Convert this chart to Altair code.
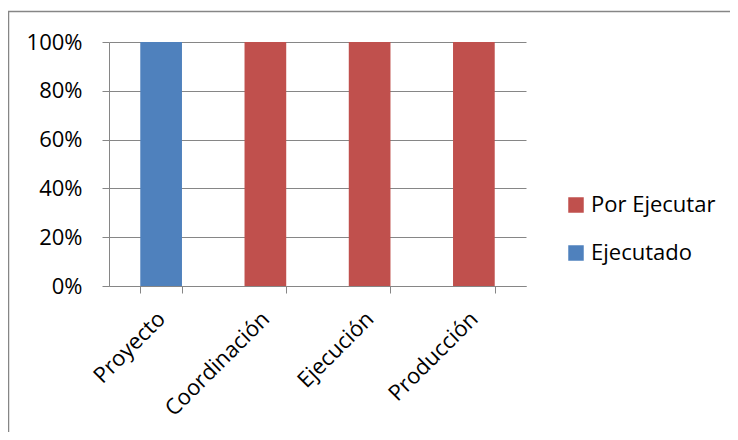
import altair as alt
import pandas as pd

categories = ["Proyecto", "Coordinación", "Ejecución", "Producción"]
ejecutado = [1.0, 0.0, 0.0, 0.0]
por_ejecutar = [0.0, 1.0, 1.0, 1.0]
series_names = ["Por Ejecutar", "Ejecutado"]
series_colors = ["#C0504D", "#4F81BD"]
y_ticks = [0, 0.2, 0.4, 0.6, 0.8, 1.0]

rows = []
for c, e, p in zip(categories, ejecutado, por_ejecutar):
    rows.append({"cat": c, "serie": "Ejecutado", "val": e, "ord": 0})
    rows.append({"cat": c, "serie": "Por Ejecutar", "val": p, "ord": 1})
df = pd.DataFrame(rows)

FONT = "Open Sans"
GRID = "#868686"

bars = alt.Chart(df).mark_bar().encode(
    x=alt.X("cat:N", sort=categories, title=None,
            scale=alt.Scale(paddingInner=0.6, paddingOuter=0.3),
            axis=alt.Axis(labelAngle=-45, labelAlign="right", labelBaseline="middle",
                          labelPadding=22, tickSize=7, tickBand="extent",
                          tickColor=GRID, domainColor=GRID, labelFontSize=22,
                          labelFont=FONT, labelColor="#000000", grid=False)),
    y=alt.Y("val:Q", stack="zero", title=None,
            scale=alt.Scale(domain=[0, 1], nice=False),
            axis=alt.Axis(values=y_ticks, format=".0%", tickSize=7, labelPadding=20,
                          tickColor=GRID, domainColor=GRID, gridColor=GRID,
                          labelFontSize=22, labelFont=FONT, labelColor="#000000")),
    color=alt.Color("serie:N", title=None,
                    scale=alt.Scale(domain=series_names, range=series_colors),
                    legend=alt.Legend(orient="none", legendX=456, legendY=152,
                                      symbolType="square", symbolSize=240,
                                      symbolStrokeWidth=0, labelFontSize=22,
                                      labelFont=FONT, labelColor="#000000",
                                      labelOffset=4, rowPadding=26)),
    order=alt.Order("ord:Q"),
)

border = alt.Chart(pd.DataFrame({"a": [0]})).mark_rect(
    fill=None, stroke=GRID, strokeWidth=1.5, clip=False
).encode(
    x=alt.value(-100.5), x2=alt.value(700),
    y=alt.value(-30.5), y2=alt.value(500),
)

chart = alt.layer(border, bars).properties(
    width=417, height=244,
    autosize=alt.AutoSizeParams(type="none"),
    padding={"left": 101, "top": 34, "right": 204, "bottom": 146},
).configure_view(stroke=None).configure_axis(gridWidth=1, domainWidth=1, tickWidth=1)

chart.save("out.html", embed_options={"renderer": "svg", "actions": False})
